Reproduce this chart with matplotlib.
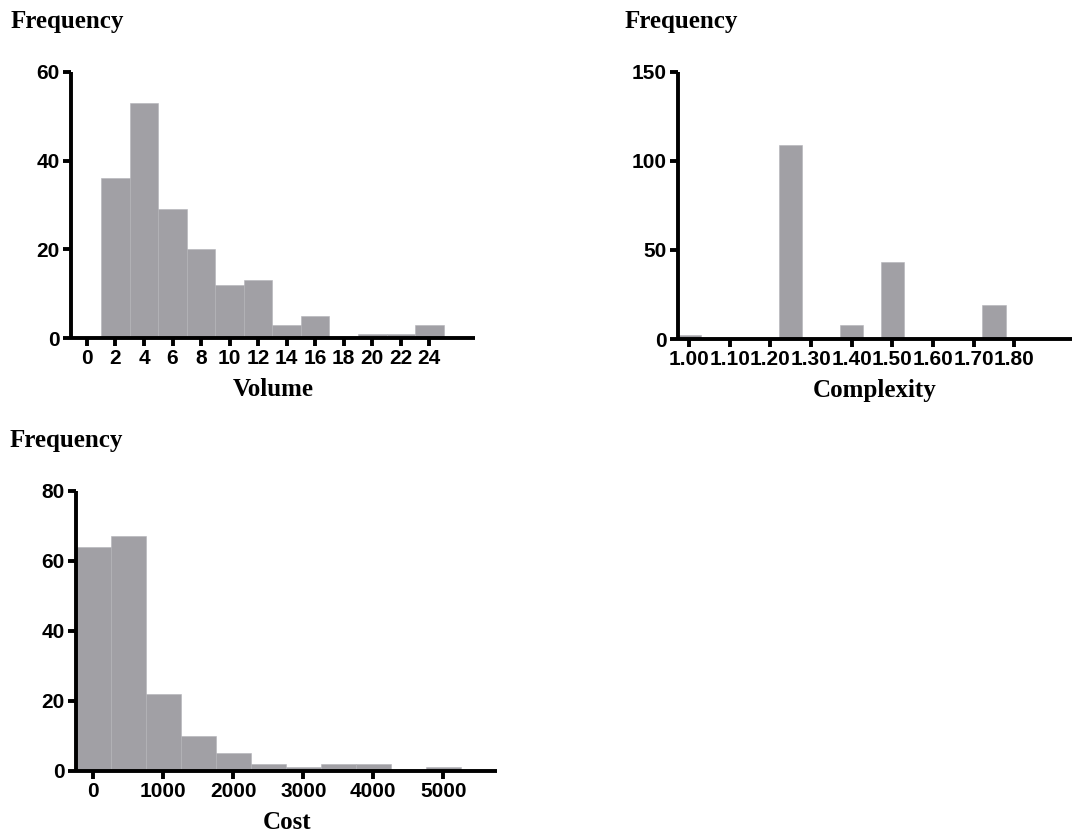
import matplotlib
matplotlib.use("Agg")
import matplotlib.pyplot as plt
import numpy as np

# Histogram bins (centres) and counts for each variable
volume_centres = [0, 2, 4, 6, 8, 10, 12, 14, 16, 18, 20, 22, 24]
volume_counts = [0, 36, 53, 29, 20, 12, 13, 3, 5, 0, 1, 1, 3]
volume_ticks = [0, 2, 4, 6, 8, 10, 12, 14, 16, 18, 20, 22, 24]

complexity_centres = [1.00, 1.25, 1.40, 1.50, 1.75]
complexity_counts = [2, 109, 8, 43, 19]
complexity_ticks = [1.00, 1.10, 1.20, 1.30, 1.40, 1.50, 1.60, 1.70, 1.80]

cost_centres = [0, 500, 1000, 1500, 2000, 2500, 3000, 3500, 4000, 4500, 5000]
cost_counts = [64, 67, 22, 10, 5, 2, 1, 2, 2, 0, 1]
cost_ticks = [0, 1000, 2000, 3000, 4000, 5000]

BAR = "#a1a0a5"
EDGE = "#b4b3b8"
LABEL_FONT = {"family": "Liberation Serif", "weight": "bold", "size": 18}

plt.rcParams["font.family"] = ["Liberation Sans", "DejaVu Sans"]
plt.rcParams["font.weight"] = "bold"
plt.rcParams["xtick.labelsize"] = 15
plt.rcParams["ytick.labelsize"] = 15


def style_axes(ax):
    for side in ("top", "right"):
        ax.spines[side].set_visible(False)
    for side in ("left", "bottom"):
        ax.spines[side].set_linewidth(2.8)
        ax.spines[side].set_capstyle("butt")
    ax.tick_params(width=2.8, length=6, pad=2)


def draw_hist(ax, centres, counts, width, xlim, ylim, yticks, xticks, xtick_labels, xlabel):
    ax.bar(centres, counts, width=width, color=BAR, edgecolor=EDGE, linewidth=0.4, zorder=1)
    ax.set_xlim(*xlim)
    ax.set_ylim(*ylim)
    ax.set_yticks(yticks)
    ax.set_xticks(xticks)
    ax.set_xticklabels(xtick_labels)
    style_axes(ax)
    ax.set_xlabel(xlabel, fontdict=LABEL_FONT, labelpad=7)


fig = plt.figure(figsize=(10.72, 8.35), dpi=100)

ax1 = fig.add_axes([0.0662, 0.5952, 0.3769, 0.3186])
draw_hist(ax1, volume_centres, volume_counts, 2, (-1.12, 27.2), (0, 60),
          [0, 20, 40, 60], volume_ticks, [str(t) for t in volume_ticks], "Volume")

ax2 = fig.add_axes([0.6325, 0.594, 0.3675, 0.320])
draw_hist(ax2, complexity_centres, complexity_counts, 0.058, (0.973, 1.942), (0, 150),
          [0, 50, 100, 150], complexity_ticks, [f"{t:.2f}" for t in complexity_ticks],
          "Complexity")

ax3 = fig.add_axes([0.0709, 0.077, 0.393, 0.335])
draw_hist(ax3, cost_centres, cost_counts, 500, (-247, 5771), (0, 80),
          [0, 20, 40, 60, 80], cost_ticks, [str(t) for t in cost_ticks], "Cost")

# "Frequency" headings above each y axis
fig.text(0.010, 1 - 28 / 835, "Frequency", ha="left", va="baseline", **LABEL_FONT)
fig.text(0.583, 1 - 28 / 835, "Frequency", ha="left", va="baseline", **LABEL_FONT)
fig.text(0.009, 1 - 447 / 835, "Frequency", ha="left", va="baseline", **LABEL_FONT)

fig.savefig("out.png", dpi=100)
